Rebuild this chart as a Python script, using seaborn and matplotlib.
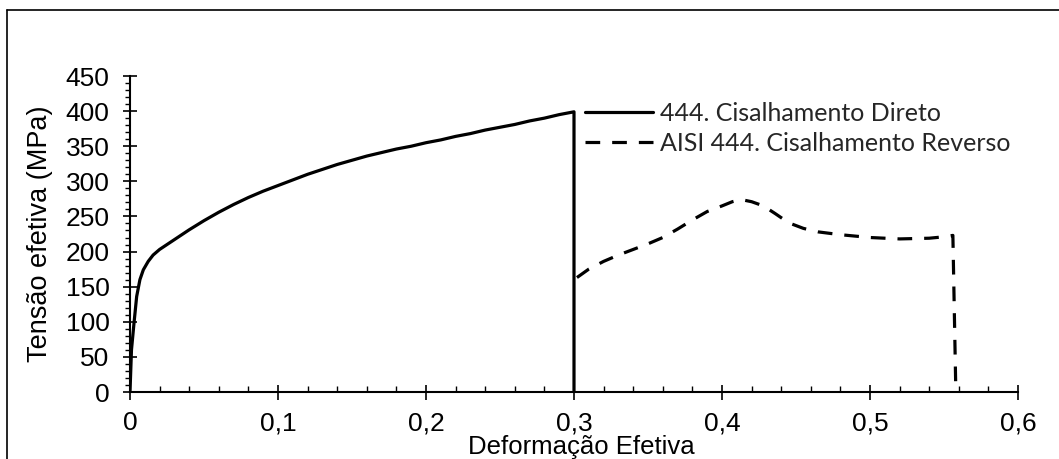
import matplotlib
matplotlib.use("Agg")
import matplotlib.pyplot as plt
from matplotlib.lines import Line2D
from matplotlib.ticker import MultipleLocator, FuncFormatter
import seaborn as sns
import pandas as pd

# curva de cisalhamento direto (AISI 444)
direto_def = [0, 0.001, 0.0027, 0.0045, 0.0067, 0.009, 0.0123, 0.0156, 0.020,
              0.030, 0.040, 0.050, 0.060, 0.070, 0.080, 0.090, 0.100, 0.110,
              0.120, 0.130, 0.140, 0.150, 0.160, 0.170, 0.180, 0.190, 0.200,
              0.210, 0.220, 0.230, 0.240, 0.250, 0.260, 0.270, 0.280, 0.290,
              0.300, 0.300]
direto_tensao = [0, 60, 98, 136, 160, 174, 186, 195, 203,
                 217, 231, 244, 256, 267, 277, 286, 294, 302,
                 310, 317, 324, 330, 336, 341, 346, 350, 355,
                 359, 364, 368, 373, 377, 381, 386, 390, 395,
                 399, 0]

# curva de cisalhamento reverso
reverso_def = [0.302, 0.310, 0.320, 0.330, 0.340, 0.350, 0.360, 0.370, 0.380,
               0.390, 0.400, 0.407, 0.413, 0.420, 0.428, 0.436, 0.445, 0.455,
               0.465, 0.480, 0.500, 0.520, 0.540, 0.550, 0.556, 0.558]
reverso_tensao = [163, 175, 186, 195, 203, 211, 220, 232, 245,
                  257, 265, 271, 274, 271, 265, 254, 241, 233,
                  228, 224, 220, 218, 219, 221, 223, 0]

labels = ["444. Cisalhamento Direto", "AISI 444. Cisalhamento Reverso"]

sns.set_theme(style="white")
plt.rcParams['font.family'] = ['Liberation Sans', 'DejaVu Sans']

fig = plt.figure(figsize=(10.59, 4.59), dpi=100)
ax = fig.add_axes([130 / 1059, 67 / 459, 888 / 1059, 316 / 459])

df_dir = pd.DataFrame({"x": direto_def, "y": direto_tensao})
df_rev = pd.DataFrame({"x": reverso_def, "y": reverso_tensao})

sns.lineplot(data=df_dir, x="x", y="y", ax=ax, sort=False, estimator=None,
             color="black", linewidth=2.3, label=labels[0])
sns.lineplot(data=df_rev, x="x", y="y", ax=ax, sort=False, estimator=None,
             color="black", linewidth=2.3, linestyle=(0, (4.6, 3.75)),
             label=labels[1])

ax.set_xlim(0, 0.6)
ax.set_ylim(0, 450)
ax.xaxis.set_major_locator(MultipleLocator(0.1))
ax.xaxis.set_minor_locator(MultipleLocator(0.02))
ax.yaxis.set_major_locator(MultipleLocator(50))
ax.yaxis.set_minor_locator(MultipleLocator(10))
ax.xaxis.set_major_formatter(FuncFormatter(
    lambda v, p: "0" if abs(v) < 1e-9 else f"{v:.1f}".replace(".", ",")))

for s in ["top", "right"]:
    ax.spines[s].set_visible(False)
for s in ["left", "bottom"]:
    ax.spines[s].set_color("black")
    ax.spines[s].set_linewidth(1.5)

ax.tick_params(axis="x", which="major", direction="inout", length=10.8,
               width=1.2, colors="black", labelsize=19, pad=8.5, bottom=True)
ax.tick_params(axis="x", which="minor", direction="in", length=4.3,
               width=1.0, colors="black", bottom=True)
ax.tick_params(axis="y", which="major", direction="inout", length=9.4,
               width=1.2, colors="black", labelsize=19, pad=10, left=True)
ax.tick_params(axis="y", which="minor", direction="out", length=3.8,
               width=1.0, colors="black", left=True)

ax.set_xlabel("Deformação Efetiva", fontsize=18.5, color="black")
ax.xaxis.set_label_coords(0.508, -0.196)
ax.xaxis.label.set_va("baseline")
ax.set_ylabel("Tensão efetiva (MPa)", fontsize=19.5, color="black")
ax.yaxis.set_label_coords(-0.101, 0.5)
ax.yaxis.label.set_va("center")

leg = ax.legend(loc="upper left", bbox_to_anchor=(585 / 1059, 1 - 102 / 459),
                bbox_transform=fig.transFigure, frameon=False,
                prop={"family": ["Lato", "DejaVu Sans"], "size": 18},
                handlelength=2.7, handletextpad=0.3, labelspacing=0.28,
                borderpad=0, borderaxespad=0)

# moldura do grafico
fig.add_artist(Line2D([7 / 1059, 7 / 1059], [0, 1 - 10 / 459],
                      transform=fig.transFigure, color="black", linewidth=1.2))
fig.add_artist(Line2D([7 / 1059, 1], [1 - 10 / 459, 1 - 10 / 459],
                      transform=fig.transFigure, color="black", linewidth=1.2))

fig.savefig("out.png", dpi=100)
